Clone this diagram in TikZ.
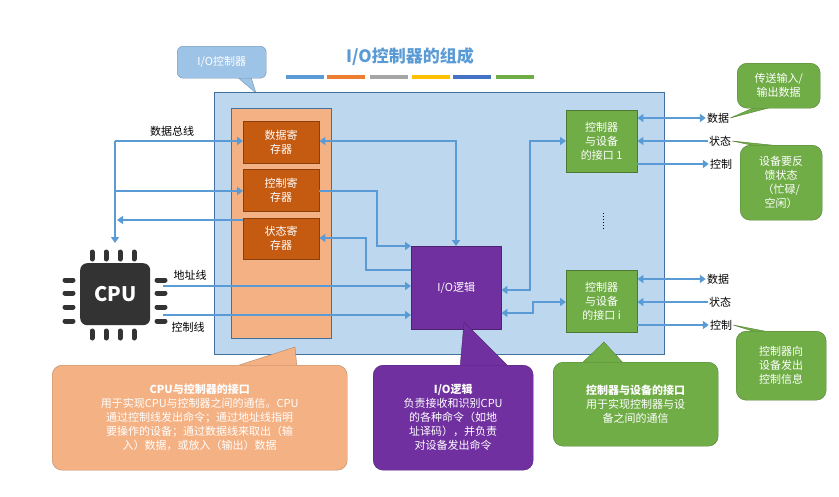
\documentclass[tikz,border=0pt]{standalone}
\usepackage{fontspec}
\setmainfont{Noto Sans CJK SC}
\usetikzlibrary{arrows.meta}
\definecolor{lb}{HTML}{BDD7EE}
\definecolor{lbd}{HTML}{41719C}
\definecolor{ln}{HTML}{5B9BD5}
\definecolor{org}{HTML}{F4B183}
\definecolor{orgd}{HTML}{C55A11}
\definecolor{pur}{HTML}{7030A0}
\definecolor{grn}{HTML}{70AD47}
\definecolor{grnd}{HTML}{507E32}
\definecolor{cb}{HTML}{9DC3E6}
\begin{document}
\begin{tikzpicture}[x=1pt,y=-1pt,
  box/.style={draw=#1!70!black,fill=#1,minimum width=0pt,minimum height=0pt,inner sep=0pt,anchor=north west,text=white,align=center,font=\fontsize{11}{14}\selectfont},
  wire/.style={draw=ln,line width=2pt,-{Triangle[length=6pt,width=8pt]}},
  dwire/.style={draw=ln,line width=2pt,{Triangle[length=6pt,width=8pt]}-{Triangle[length=6pt,width=8pt]}},
  lab/.style={font=\fontsize{11}{13}\selectfont,inner sep=1pt},
  call/.style={draw=#1!75!black,fill=#1,rounded corners=10pt,anchor=north west,inner sep=0pt,text=white,align=center,font=\fontsize{11}{14}\selectfont},
  ctri/.style={draw=#1!75!black,fill=#1},
  pin/.style={line width=5pt,line cap=round,draw=black!80}]
\useasboundingbox (0,0) rectangle (839,496);
% title
\node (title) at (410,57) {\fontsize{17}{20}\selectfont\bfseries\color{ln}I/O控制器的组成};
\foreach \x/\c in {286/5B9BD5,327/ED7D31,370/A5A5A5,412/FFC000,453/4472C4,496/70AD47}
  {\definecolor{bc}{HTML}{\c}\fill[bc] (\x,75) rectangle ++(38,3.5);}
% top-left callout
\coordinate (tc) at (256,93);
\filldraw[ctri=cb] (236,76) -- (tc) -- (250,74) -- cycle;
\node[call=cb,rounded corners=6pt,minimum width=89pt,minimum height=32pt] (ioc) at (177,46) {I/O控制器};
% main box
\node[box=lb,draw=lbd,minimum width=450pt,minimum height=262pt] (main) at (214,92) {};
\node[box=org,draw=lbd,minimum width=100pt,minimum height=230pt] (col) at (231,108) {};
\node[box=orgd,minimum width=76pt,minimum height=42pt] (dr) at (243,121) {数据寄\\存器};
\node[box=orgd,minimum width=76pt,minimum height=42pt] (cr) at (243,169) {控制寄\\存器};
\node[box=orgd,minimum width=76pt,minimum height=41pt] (sr) at (243,218) {状态寄\\存器};
\node[box=pur,minimum width=90pt,minimum height=83pt] (iol) at (411,246) {I/O逻辑};
\node[box=grn,minimum width=71pt,minimum height=62pt] (if1) at (566,110) {控制器\\与设备\\的接口 1};
\node[box=grn,minimum width=71pt,minimum height=62pt] (ifi) at (566,270) {控制器\\与设备\\的接口 i};
\draw[dotted,line width=1pt] (603,213) -- (603,231);
% CPU
\foreach \x in {92,106,120,134} {\draw[pin] (\x,252) -- (\x,259); \draw[pin] (\x,331) -- (\x,338);}
\foreach \y in {280,293,307,321} {\draw[pin] (65,\y) -- (73,\y); \draw[pin] (157,\y) -- (165,\y);}
\node[fill=black!80,rounded corners=7pt,minimum width=70pt,minimum height=62pt,anchor=north west,text=white,font=\fontsize{20}{20}\selectfont\bfseries] (cpu) at (80,263) {CPU};
% left wires
\coordinate (b1) at (115,141);
\coordinate (b2) at (115,191);
\draw[wire] (b1) -- (115,243);
\draw[wire] (b1) -- (dr.west|-b1);
\draw[wire] (b2) -- (cr.west|-b2);
\draw[wire] (sr.west|-0,220) -- (117,220);
\node[lab] (dbl) at (172,131) {数据总线};
\draw[dwire] (dr.east|-0,141) -- (456,141) -- (456,246);
\draw[wire] (cr.east|-0,191) -- (377,191) -- (377,246) -- (411,246);
\draw[wire] (iol.west|-0,270) -- (366,270) -- (366,238) -- (sr.east|-0,238);
\draw[wire] (163,286) -- (iol.west|-0,286);
\draw[wire] (163,315) -- (iol.west|-0,315);
\node[lab] (adl) at (190,275) {地址线};
\node[lab] (ctl) at (188,327) {控制线};
\draw[dwire] (iol.east|-0,290) -- (530,290) -- (530,141) -- (if1.west|-0,141);
\draw[dwire] (iol.east|-0,313) -- (533,313) -- (533,302) -- (ifi.west|-0,302);
% right side
\node[lab] (d1) at (718,118) {数据};
\node[lab] (s1) at (720,141) {状态};
\node[lab] (c1) at (721,164) {控制};
\node[lab] (d2) at (718,279) {数据};
\node[lab] (s2) at (720,302) {状态};
\node[lab] (c2) at (721,325) {控制};
\draw[dwire] (if1.east|-d1) -- (d1.west);
\draw[wire] (s1.west) -- (if1.east|-s1);
\draw[wire] (if1.east|-c1) -- (c1.west);
\draw[dwire] (ifi.east|-d2) -- (d2.west);
\draw[wire] (s2.west) -- (ifi.east|-s2);
\draw[wire] (ifi.east|-c2) -- (c2.west);
% right callouts
\filldraw[ctri=grn] (760,105) -- (d1.east) -- (780,105) -- cycle;
\node[call=grn,minimum width=83pt,minimum height=45pt] (k1) at (737,63) {传送输入/\\输出数据};
\filldraw[ctri=grn] (775,150) -- (s1.east) -- (800,148) -- cycle;
\node[call=grn,minimum width=82pt,minimum height=75pt] (k2) at (740,145) {设备要反\\馈状态\\（忙碌/\\空闲）};
\filldraw[ctri=grn] (765,335) -- (c2.east) -- (785,335) -- cycle;
\node[call=grn,minimum width=90pt,minimum height=69pt] (k3) at (736,331) {控制器向\\设备发出\\控制信息};
% bottom callouts
\coordinate (p1) at (295,347);
\filldraw[ctri=org] (230,368) -- (p1) -- (297,368) -- cycle;
\node[call=org,minimum width=295pt,minimum height=105pt] (b1c) at (52,365) {\textbf{\itshape CPU与控制器的接口}\\用于实现CPU与控制器之间的通信。CPU\\通过控制线发出命令；通过地址线指明\\要操作的设备；通过数据线来取出（输\\入）数据，或放入（输出）数据};
\coordinate (p2) at (464,322);
\filldraw[ctri=pur] (460,368) -- (p2) -- (510,368) -- cycle;
\node[call=pur,minimum width=160pt,minimum height=105pt] (b2c) at (373,365) {\textbf{\itshape I/O逻辑}\\负责接收和识别CPU\\的各种命令（如地\\址译码），并负责\\对设备发出命令};
\coordinate (p3) at (604,342);
\filldraw[ctri=grn] (580,365) -- (p3) -- (625,365) -- cycle;
\node[call=grn,minimum width=165pt,minimum height=84pt] (b3c) at (553,362) {\textbf{\itshape 控制器与设备的接口}\\用于实现控制器与设\\备之间的通信};
\end{tikzpicture}
\end{document}
